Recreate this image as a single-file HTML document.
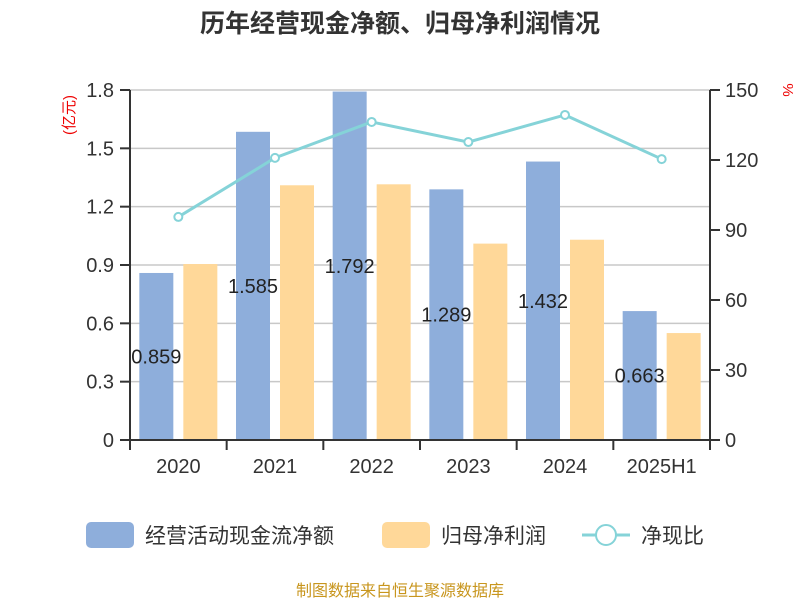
<!DOCTYPE html>
<html><head><meta charset="utf-8"><style>
body{margin:0;background:#fff;}
svg text{font-family:"Liberation Sans","Noto Sans CJK SC",sans-serif;}
</style></head><body>
<svg id="chart" width="800" height="600">
<text x="400" y="32" text-anchor="middle" font-size="25" font-weight="bold" fill="#333">历年经营现金净额、归母净利润情况</text>
<text transform="translate(74,115) rotate(-90)" text-anchor="middle" font-size="15" fill="#e00">(亿元)</text>
<text transform="translate(783,90) rotate(90)" text-anchor="middle" font-size="15" fill="#e00">%</text>
<g id="grid"></g><g id="bars"></g><g id="line"></g><g id="axes"></g>
<g>
<rect x="86" y="522" width="48" height="26" rx="5" fill="#8eaedb"/>
<text x="145" y="543" font-size="21" fill="#333">经营活动现金流净额</text>
<rect x="382" y="522" width="48" height="26" rx="5" fill="#ffd899"/>
<text x="441" y="543" font-size="21" fill="#333">归母净利润</text>
<line x1="582" y1="535" x2="630" y2="535" stroke="#85d3d8" stroke-width="3"/>
<circle cx="606" cy="535" r="10" fill="#fff" stroke="#85d3d8" stroke-width="2"/>
<text x="641" y="543" font-size="21" fill="#333">净现比</text>
</g>
<text x="400" y="596" text-anchor="middle" font-size="16" fill="#c8961e">制图数据来自恒生聚源数据库</text>
</svg>
<script>
const categories=["2020","2021","2022","2023","2024","2025H1"];
const cashFlow=[0.859,1.585,1.792,1.289,1.432,0.663];
const netProfit=[0.905,1.31,1.315,1.01,1.03,0.55];
const ratio=[95.6,120.9,136.3,127.7,139.3,120.4];
const leftTicks=[0,0.3,0.6,0.9,1.2,1.5,1.8];
const rightTicks=[0,30,60,90,120,150];
const NS="http://www.w3.org/2000/svg";
const X0=130,X1=710,Y0=440,Y1=90;
const bw=(X1-X0)/categories.length;
const yL=v=>Y0-v/1.8*(Y0-Y1);
const yR=v=>Y0-v/150*(Y0-Y1);
const xc=i=>X0+bw*(i+0.5);
function mk(tag,attrs,parent){const e=document.createElementNS(NS,tag);for(const k in attrs)e.setAttribute(k,attrs[k]);document.getElementById(parent).appendChild(e);return e;}
leftTicks.forEach(t=>{
  if(t>0){const g=mk('line',{x1:X0,x2:X1,y1:yL(t),y2:yL(t),stroke:'#c8c8c8','stroke-width':1.5},'grid');
  
  }
  const tk=mk('line',{x1:X0-10,x2:X0,y1:yL(t),y2:yL(t),stroke:'#333','stroke-width':2},'axes');
  
  
  const l=mk('text',{x:X0-16,y:yL(t)+7,'text-anchor':'end','font-size':20,fill:'#333'},'axes');
  l.textContent=String(t===0?0:t.toFixed(1));
  
  
});
rightTicks.forEach(t=>{
  const tk=mk('line',{x1:X1,x2:X1+10,y1:yR(t),y2:yR(t),stroke:'#333','stroke-width':2},'axes');
  
  
  const l=mk('text',{x:X1+15,y:yR(t)+7,'font-size':20,fill:'#333'},'axes');
  l.textContent=String(t);
  
  
});
categories.forEach((c,i)=>{
  const b=mk('rect',{x:xc(i)-39,y:yL(cashFlow[i]),width:34,height:Y0-yL(cashFlow[i]),fill:'#8eaedb'},'bars');
  
  
  const o=mk('rect',{x:xc(i)+5,y:yL(netProfit[i]),width:34,height:Y0-yL(netProfit[i]),fill:'#ffd899'},'bars');
  
  
  const v=mk('text',{x:xc(i)-22,y:(yL(cashFlow[i])+Y0)/2+7,'text-anchor':'middle','font-size':20,fill:'#222'},'bars');
  v.textContent=cashFlow[i].toFixed(3);
  
  
  const xl=mk('text',{x:xc(i),y:473,'text-anchor':'middle','font-size':20,fill:'#333'},'axes');
  xl.textContent=c;
  
  
});
for(let i=0;i<=categories.length;i++){
  const t=mk('line',{x1:X0+bw*i,x2:X0+bw*i,y1:Y0,y2:Y0+10,stroke:'#333','stroke-width':2},'axes');
  
  
}
const pl=mk('polyline',{points:ratio.map((v,i)=>xc(i)+','+yR(v)).join(' '),fill:'none',stroke:'#85d3d8','stroke-width':3},'line');


ratio.forEach((v,i)=>{
  const p=mk('circle',{cx:xc(i),cy:yR(v),r:4,fill:'#fff',stroke:'#85d3d8','stroke-width':2},'line');
  
  
});
[['x-axis',X0,Y0,X1,Y0],['left-axis',X0,Y1,X0,Y0],['right-axis',X1,Y1,X1,Y0]].forEach(a=>{
  const l=mk('line',{x1:a[1],y1:a[2],x2:a[3],y2:a[4],stroke:'#333','stroke-width':2},'axes');
  
  
});
</script>
</body></html>
